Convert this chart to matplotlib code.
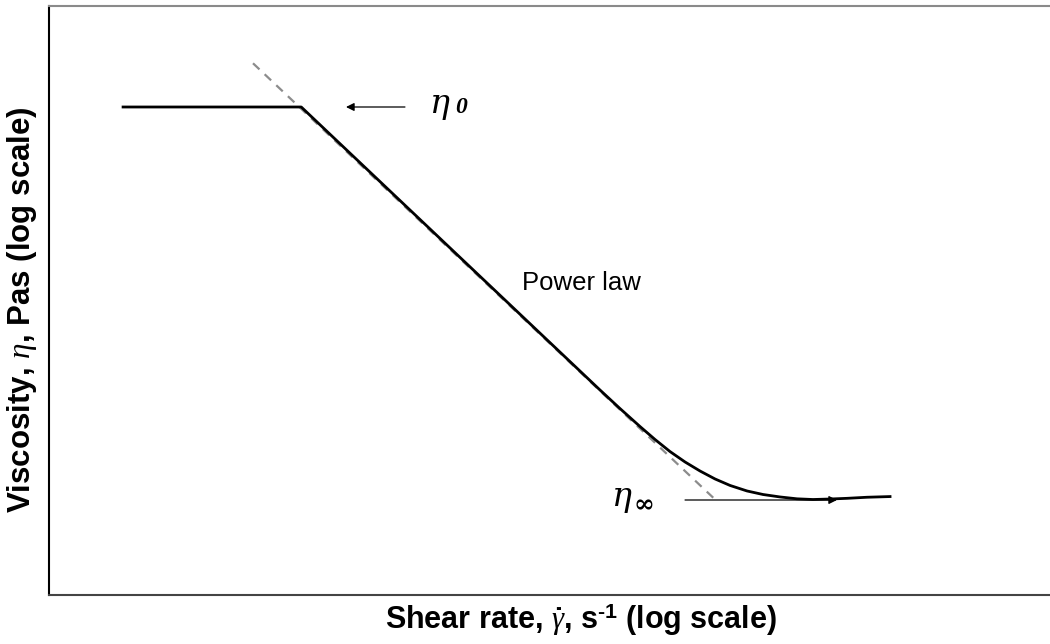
import numpy as np
import matplotlib
matplotlib.use("Agg")
import matplotlib.pyplot as plt

plt.rcParams["font.family"] = ["Liberation Sans", "DejaVu Sans"]
plt.rcParams["mathtext.fontset"] = "custom"
plt.rcParams["mathtext.rm"] = "Liberation Sans:bold"
plt.rcParams["mathtext.bf"] = "Liberation Sans:bold"
plt.rcParams["mathtext.it"] = "Liberation Serif:italic"

# Flow curve, in decades: log10(shear rate) and log10(viscosity)
log_shear = [-3.26, -1.48, 1.504, 1.704, 1.904, 2.054, 2.204, 2.354, 2.504,
             2.654, 2.804, 2.973, 3.133, 3.303, 3.473, 3.632, 3.802, 3.972,
             4.172, 4.402]
log_visc = [4.0, 4.0, 1.120, 0.931, 0.748, 0.616, 0.493, 0.387, 0.295,
            0.214, 0.148, 0.092, 0.056, 0.031, 0.012, 0.005, 0.010, 0.017,
            0.028, 0.035]

# Power-law asymptote
log_shear_pl = [-1.962, 2.663]
log_visc_pl = [4.445, -0.003]

# Plateau markers
eta0_log = 4.0
eta_inf_log = 0.0
eta0_arrow_x = [-0.444, -1.033]       # tail, head
eta_inf_arrow_x = [2.354, 3.872]      # tail, head

shear = 10.0 ** np.array(log_shear)
visc = 10.0 ** np.array(log_visc)

fig = plt.figure(figsize=(10.5, 6.44), dpi=100)
ax = fig.add_axes([49 / 1050, 1 - 595 / 644, 1 - 49 / 1050, (595 - 6) / 644])
ax.set_xscale("log")
ax.set_yscale("log")
ax.set_xlim(1e-4, 10 ** 6.0)
ax.set_ylim(10 ** (4 - 488 / 98.25), 10 ** (4 + 101 / 98.25))

ax.plot(10.0 ** np.array(log_shear_pl), 10.0 ** np.array(log_visc_pl),
        color="#8c8c8c", lw=1.6, dashes=(4, 3.2), zorder=2)
ax.plot(shear, visc, color="black", lw=2.0, solid_joinstyle="round", zorder=3)

ax.annotate("", xy=(10 ** eta0_arrow_x[1], 10 ** eta0_log),
            xytext=(10 ** eta0_arrow_x[0], 10 ** eta0_log),
            arrowprops=dict(arrowstyle="-|>", color="black", lw=0.9,
                            mutation_scale=12, shrinkA=0, shrinkB=0))
ax.annotate("", xy=(10 ** eta_inf_arrow_x[1], 10 ** eta_inf_log),
            xytext=(10 ** eta_inf_arrow_x[0], 10 ** eta_inf_log),
            arrowprops=dict(arrowstyle="-|>", color="black", lw=0.9,
                            mutation_scale=12, shrinkA=0, shrinkB=0), zorder=1)

eta_font = dict(family=["DejaVu Serif"], style="italic")
sub_font = dict(family=["Liberation Serif", "DejaVu Serif"], style="italic",
                weight="bold")
ax.text(10 ** -0.194, 10 ** 4.03, "η", fontsize=24, ha="left", va="center", **eta_font)
ax.text(10 ** 0.056, 10 ** 3.99, "0", fontsize=17, ha="left", va="center", **sub_font)
ax.text(10 ** 1.624, 10 ** 0.03, "η", fontsize=24, ha="left", va="center", **eta_font)
ax.text(10 ** 1.844, 10 ** -0.06, "∞", fontsize=18, ha="left", va="center",
        family=["DejaVu Serif"], style="italic", weight="bold")

ax.text(10 ** 0.725, 10 ** 2.209, "Power law", fontsize=18.5, ha="left", va="center")

ax.set_xticks([])
ax.set_yticks([])
ax.minorticks_off()
ax.tick_params(which="both", length=0)
ax.spines["right"].set_visible(False)
ax.spines["top"].set_color("#8a8a8a")
ax.spines["top"].set_linewidth(1.5)
ax.spines["left"].set_color("black")
ax.spines["left"].set_linewidth(1.5)
ax.spines["bottom"].set_color("#444444")
ax.spines["bottom"].set_linewidth(1.5)

fig.text(581 / 1050, 1 - 620 / 644,
         "Shear rate, $\\dot{\\mathit{\\gamma}}$, s$^{\\mathbf{\u2010 1}}$ (log scale)",
         fontsize=22, fontweight="bold", ha="center", va="center")
fig.text(22 / 1050, 1 - 310 / 644,
         r"Viscosity, $\mathit{\eta}$, Pas (log scale)",
         fontsize=22.5, fontweight="bold", ha="center", va="center", rotation=90)

fig.savefig("out.png", dpi=100)
